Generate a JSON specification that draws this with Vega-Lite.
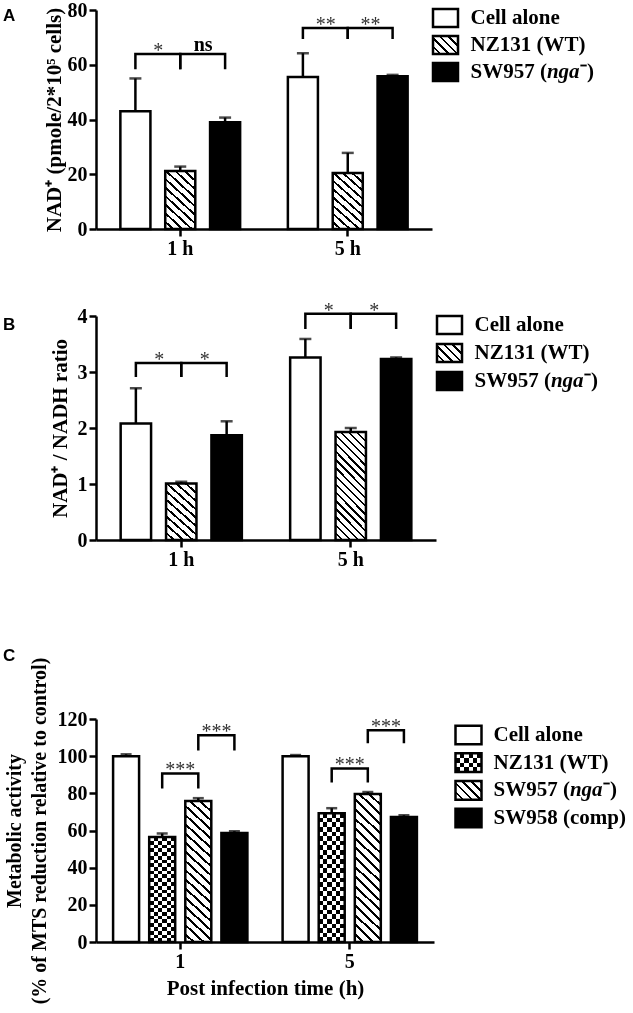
{
"$schema":"https://vega.github.io/schema/vega-lite/v6.json",
"padding":{"left":3,"top":0,"right":0,"bottom":0},
"background":"white",
"config":{"view":{"stroke":null},"font":"Liberation Serif",
"axis":{"domainColor":"black","domainWidth":2.5,"tickColor":"black","tickWidth":2.5,"tickSize":7,"labelFont":"Liberation Serif","labelFontWeight":"bold","labelFontSize":20,"labelColor":"black","labelPadding":2,"labelOverlap":false,"titleFont":"Liberation Serif","titleFontWeight":"bold","titleFontSize":21,"titleColor":"black","grid":false},
"title":{"font":"Liberation Sans","fontSize":17,"fontWeight":"bold","color":"black","anchor":"start","frame":"group"}},
"datasets":{
"barsA":[{"group":"1 h","series":"Cell alone","value":43,"upper":55},{"group":"1 h","series":"NZ131 (WT)","value":21.2,"upper":22.8},{"group":"1 h","series":"SW957 (nga⁻)","value":39,"upper":40.7},{"group":"5 h","series":"Cell alone","value":55.5,"upper":64.2},{"group":"5 h","series":"NZ131 (WT)","value":20.5,"upper":27.8},{"group":"5 h","series":"SW957 (nga⁻)","value":55.8,"upper":56.3}],
"brA":[{"id":"a","group":"1 h","series":"Cell alone","y":58.4,"o":1},{"id":"a","group":"1 h","series":"Cell alone","y":63.9,"o":2},{"id":"a","group":"1 h","series":"NZ131 (WT)","y":63.9,"o":3},{"id":"a","group":"1 h","series":"NZ131 (WT)","y":58.4,"o":4},
{"id":"b","group":"1 h","series":"NZ131 (WT)","y":58.4,"o":1},{"id":"b","group":"1 h","series":"NZ131 (WT)","y":63.9,"o":2},{"id":"b","group":"1 h","series":"SW957 (nga⁻)","y":63.9,"o":3},{"id":"b","group":"1 h","series":"SW957 (nga⁻)","y":58.4,"o":4},
{"id":"c","group":"5 h","series":"Cell alone","y":69.4,"o":1},{"id":"c","group":"5 h","series":"Cell alone","y":73.4,"o":2},{"id":"c","group":"5 h","series":"NZ131 (WT)","y":73.4,"o":3},{"id":"c","group":"5 h","series":"NZ131 (WT)","y":69.4,"o":4},
{"id":"d","group":"5 h","series":"NZ131 (WT)","y":69.4,"o":1},{"id":"d","group":"5 h","series":"NZ131 (WT)","y":73.4,"o":2},{"id":"d","group":"5 h","series":"SW957 (nga⁻)","y":73.4,"o":3},{"id":"d","group":"5 h","series":"SW957 (nga⁻)","y":69.4,"o":4}],
"stA":[{"group":"1 h","series":"NZ131 (WT)","y":63.9,"label":"*"},{"group":"1 h","series":"SW957 (nga⁻)","y":63.9,"label":"ns"},{"group":"5 h","series":"NZ131 (WT)","y":73.4,"label":"**"},{"group":"5 h","series":"SW957 (nga⁻)","y":73.4,"label":"**"}],
"barsB":[{"group":"1 h","series":"Cell alone","value":2.08,"upper":2.71},{"group":"1 h","series":"NZ131 (WT)","value":1.01,"upper":1.04},{"group":"1 h","series":"SW957 (nga⁻)","value":1.87,"upper":2.12},{"group":"5 h","series":"Cell alone","value":3.26,"upper":3.59},{"group":"5 h","series":"NZ131 (WT)","value":1.93,"upper":2.0},{"group":"5 h","series":"SW957 (nga⁻)","value":3.23,"upper":3.26}],
"brB":[{"id":"a","group":"1 h","series":"Cell alone","y":2.91,"o":1},{"id":"a","group":"1 h","series":"Cell alone","y":3.16,"o":2},{"id":"a","group":"1 h","series":"NZ131 (WT)","y":3.16,"o":3},{"id":"a","group":"1 h","series":"NZ131 (WT)","y":2.91,"o":4},
{"id":"b","group":"1 h","series":"NZ131 (WT)","y":2.91,"o":1},{"id":"b","group":"1 h","series":"NZ131 (WT)","y":3.16,"o":2},{"id":"b","group":"1 h","series":"SW957 (nga⁻)","y":3.16,"o":3},{"id":"b","group":"1 h","series":"SW957 (nga⁻)","y":2.91,"o":4},
{"id":"c","group":"5 h","series":"Cell alone","y":3.77,"o":1},{"id":"c","group":"5 h","series":"Cell alone","y":4.04,"o":2},{"id":"c","group":"5 h","series":"NZ131 (WT)","y":4.04,"o":3},{"id":"c","group":"5 h","series":"NZ131 (WT)","y":3.77,"o":4},
{"id":"d","group":"5 h","series":"NZ131 (WT)","y":3.77,"o":1},{"id":"d","group":"5 h","series":"NZ131 (WT)","y":4.04,"o":2},{"id":"d","group":"5 h","series":"SW957 (nga⁻)","y":4.04,"o":3},{"id":"d","group":"5 h","series":"SW957 (nga⁻)","y":3.77,"o":4}],
"stB":[{"group":"1 h","series":"NZ131 (WT)","y":3.16,"label":"*"},{"group":"1 h","series":"SW957 (nga⁻)","y":3.16,"label":"*"},{"group":"5 h","series":"NZ131 (WT)","y":4.04,"label":"*"},{"group":"5 h","series":"SW957 (nga⁻)","y":4.04,"label":"*"}],
"barsC":[{"group":"1","series":"Cell alone","value":100,"upper":101},{"group":"1","series":"NZ131 (WT)","value":56.5,"upper":58.4},{"group":"1","series":"SW957 (nga⁻)","value":75.9,"upper":77.4},{"group":"1","series":"SW958 (comp)","value":58.6,"upper":59.6},{"group":"5","series":"Cell alone","value":100,"upper":100.6},{"group":"5","series":"NZ131 (WT)","value":69.3,"upper":72},{"group":"5","series":"SW957 (nga⁻)","value":79.6,"upper":80.7},{"group":"5","series":"SW958 (comp)","value":67.3,"upper":68.2}],
"brC":[{"id":"a","group":"1","series":"NZ131 (WT)","y":82.6,"o":1},{"id":"a","group":"1","series":"NZ131 (WT)","y":90.7,"o":2},{"id":"a","group":"1","series":"SW957 (nga⁻)","y":90.7,"o":3},{"id":"a","group":"1","series":"SW957 (nga⁻)","y":82.6,"o":4},
{"id":"b","group":"1","series":"SW957 (nga⁻)","y":103.1,"o":1},{"id":"b","group":"1","series":"SW957 (nga⁻)","y":111.2,"o":2},{"id":"b","group":"1","series":"SW958 (comp)","y":111.2,"o":3},{"id":"b","group":"1","series":"SW958 (comp)","y":103.1,"o":4},
{"id":"c","group":"5","series":"NZ131 (WT)","y":85.8,"o":1},{"id":"c","group":"5","series":"NZ131 (WT)","y":93.4,"o":2},{"id":"c","group":"5","series":"SW957 (nga⁻)","y":93.4,"o":3},{"id":"c","group":"5","series":"SW957 (nga⁻)","y":85.8,"o":4},
{"id":"d","group":"5","series":"SW957 (nga⁻)","y":106.9,"o":1},{"id":"d","group":"5","series":"SW957 (nga⁻)","y":113.9,"o":2},{"id":"d","group":"5","series":"SW958 (comp)","y":113.9,"o":3},{"id":"d","group":"5","series":"SW958 (comp)","y":106.9,"o":4}],
"stC":[{"group":"1","series":"SW957 (nga⁻)","y":90.7,"label":"***"},{"group":"1","series":"SW958 (comp)","y":111.2,"label":"***"},{"group":"5","series":"SW957 (nga⁻)","y":93.4,"label":"***"},{"group":"5","series":"SW958 (comp)","y":113.9,"label":"***"}]
},
"columns":2,
"spacing":{"row":87,"column":0},
"bounds":"flush",
"resolve":{"scale":{"x":"independent","y":"independent","xOffset":"independent"},"axis":{"x":"independent","y":"independent"}},
"concat":[
{
"width":336,"height":219,
"title":{"text":"A","dx":-93,"dy":29},
"encoding":{
"x":{"field":"group","type":"nominal","scale":{"paddingInner":0.194,"paddingOuter":0.1},"axis":{"title":null,"labelAngle":0}},
"xOffset":{"field":"series","type":"nominal","scale":{"domain":["Cell alone","NZ131 (WT)","SW957 (nga⁻)"],"paddingInner":0.33,"paddingOuter":0.17}}},
"layer":[
{"data":{"name":"barsA"},"mark":{"type":"bar","strokeWidth":0},
"encoding":{"y":{"field":"value","type":"quantitative","stack":null,"title":"NAD⁺ (pmole/2*10⁵ cells)","scale":{"domain":[0,80],"nice":false},"axis":{"values":[0,20,40,60,80],"format":"d","titlePadding":3}},
"fill":{"condition":{"test":"datum.series === 'SW957 (nga⁻)'","value":"black"},"value":"white"}}},
{"data":{"name":"barsA"},"transform":[{"filter":"datum.series === 'NZ131 (WT)'"}],
"mark":{"type":"bar","strokeWidth":0,"fill":{"gradient":"linear","x1":0,"y1":1,"x2":0.573,"y2":-0.203,"stops":[{"offset":0,"color":"#fff"},{"offset":0.07,"color":"#fff"},{"offset":0.07,"color":"#000"},{"offset":0.1,"color":"#000"},{"offset":0.1,"color":"#fff"},{"offset":0.17,"color":"#fff"},{"offset":0.17,"color":"#000"},{"offset":0.2,"color":"#000"},{"offset":0.2,"color":"#fff"},{"offset":0.27,"color":"#fff"},{"offset":0.27,"color":"#000"},{"offset":0.3,"color":"#000"},{"offset":0.3,"color":"#fff"},{"offset":0.37,"color":"#fff"},{"offset":0.37,"color":"#000"},{"offset":0.4,"color":"#000"},{"offset":0.4,"color":"#fff"},{"offset":0.47,"color":"#fff"},{"offset":0.47,"color":"#000"},{"offset":0.5,"color":"#000"},{"offset":0.5,"color":"#fff"},{"offset":0.57,"color":"#fff"},{"offset":0.57,"color":"#000"},{"offset":0.6,"color":"#000"},{"offset":0.6,"color":"#fff"},{"offset":0.67,"color":"#fff"},{"offset":0.67,"color":"#000"},{"offset":0.7,"color":"#000"},{"offset":0.7,"color":"#fff"},{"offset":0.77,"color":"#fff"},{"offset":0.77,"color":"#000"},{"offset":0.8,"color":"#000"},{"offset":0.8,"color":"#fff"},{"offset":0.87,"color":"#fff"},{"offset":0.87,"color":"#000"},{"offset":0.9,"color":"#000"},{"offset":0.9,"color":"#fff"},{"offset":0.97,"color":"#fff"},{"offset":0.97,"color":"#000"},{"offset":1,"color":"#000"}]}},
"encoding":{"y":{"field":"value","type":"quantitative","stack":null,"title":"NAD⁺ (pmole/2*10⁵ cells)"}}},
{"data":{"name":"barsA"},"mark":{"type":"bar","fillOpacity":0,"stroke":"black","strokeWidth":2.5},
"encoding":{"y":{"field":"value","type":"quantitative","stack":null,"title":"NAD⁺ (pmole/2*10⁵ cells)"}}},
{"data":{"name":"barsA"},"mark":{"type":"rule","color":"black","strokeWidth":2.5},
"encoding":{"y":{"field":"value","type":"quantitative","title":"NAD⁺ (pmole/2*10⁵ cells)"},"y2":{"field":"upper"}}},
{"data":{"name":"barsA"},"mark":{"type":"tick","color":"black","size":12,"thickness":2.5},
"encoding":{"y":{"field":"upper","type":"quantitative","title":"NAD⁺ (pmole/2*10⁵ cells)"}}},
{"data":{"name":"brA"},"mark":{"type":"line","color":"black","strokeWidth":2.5,"strokeJoin":"miter","strokeCap":"butt"},
"encoding":{"y":{"field":"y","type":"quantitative","title":"NAD⁺ (pmole/2*10⁵ cells)"},"detail":{"field":"id"},"order":{"field":"o"}}},
{"data":{"name":"stA"},"transform":[{"filter":"datum.label !== 'ns'"}],"mark":{"type":"text","dx":-22,"dy":3,"baseline":"alphabetic","fontSize":20,"font":"Liberation Serif","color":"#333"},
"encoding":{"y":{"field":"y","type":"quantitative","title":"NAD⁺ (pmole/2*10⁵ cells)"},"text":{"field":"label"}}},
{"data":{"name":"stA"},"transform":[{"filter":"datum.label === 'ns'"}],"mark":{"type":"text","dx":-22,"dy":-3,"baseline":"alphabetic","fontSize":20,"fontWeight":"bold","font":"Liberation Serif","color":"black"},
"encoding":{"y":{"field":"y","type":"quantitative","title":"NAD⁺ (pmole/2*10⁵ cells)"},"text":{"field":"label"}}}
]},
{
"width":19,"height":219,
"data":{"values":[{"series":"Cell alone"},{"series":"NZ131 (WT)"},{"series":"SW957 (nga⁻)"}]},
"encoding":{"y":{"field":"series","type":"nominal","scale":{"type":"point","padding":0,"domain":["Cell alone","NZ131 (WT)","SW957 (nga⁻)"],"range":[8,62]},"axis":null}},
"layer":[
{"mark":{"type":"point","shape":"M-1,-0.72H1V0.72H-1Z","size":625,"filled":true,"opacity":1,"strokeWidth":0},
"encoding":{"fill":{"condition":{"test":"datum.series === 'SW957 (nga⁻)'","value":"black"},"value":"white"}}},
{"transform":[{"filter":"datum.series === 'NZ131 (WT)'"}],"mark":{"type":"point","shape":"M-1,-0.72H1V0.72H-1Z","size":625,"filled":true,"opacity":1,"strokeWidth":0,"fill":{"gradient":"linear","x1":0,"y1":1,"x2":1.133,"y2":0.184,"stops":[{"offset":0,"color":"#fff"},{"offset":0.14,"color":"#fff"},{"offset":0.14,"color":"#000"},{"offset":0.2,"color":"#000"},{"offset":0.2,"color":"#fff"},{"offset":0.34,"color":"#fff"},{"offset":0.34,"color":"#000"},{"offset":0.4,"color":"#000"},{"offset":0.4,"color":"#fff"},{"offset":0.54,"color":"#fff"},{"offset":0.54,"color":"#000"},{"offset":0.6,"color":"#000"},{"offset":0.6,"color":"#fff"},{"offset":0.74,"color":"#fff"},{"offset":0.74,"color":"#000"},{"offset":0.8,"color":"#000"},{"offset":0.8,"color":"#fff"},{"offset":0.94,"color":"#fff"},{"offset":0.94,"color":"#000"},{"offset":1,"color":"#000"}]}}},
{"mark":{"type":"point","shape":"M-1,-0.72H1V0.72H-1Z","size":625,"filled":false,"opacity":1,"stroke":"black","strokeWidth":2.5}},
{"transform":[{"filter":"datum.series !== 'SW957 (nga⁻)'"}],"mark":{"type":"text","align":"left","dx":25,"font":"Liberation Serif","fontWeight":"bold","fontSize":21,"color":"black"},"encoding":{"text":{"field":"series"}}},
{"transform":[{"filter":"datum.series === 'SW957 (nga⁻)'"}],"mark":{"type":"text","align":"left","dx":25,"font":"Liberation Serif","fontWeight":"bold","fontSize":21,"color":"black"},"encoding":{"text":{"value":"SW957 ("}}},
{"transform":[{"filter":"datum.series === 'SW957 (nga⁻)'"}],"mark":{"type":"text","align":"left","dx":101.4,"font":"Liberation Serif","fontWeight":"bold","fontStyle":"italic","fontSize":21,"color":"black"},"encoding":{"text":{"value":"nga"}}},
{"transform":[{"filter":"datum.series === 'SW957 (nga⁻)'"}],"mark":{"type":"text","align":"left","dx":134.5,"font":"Liberation Serif","fontWeight":"bold","fontSize":21,"color":"black"},"encoding":{"text":{"value":"⁻)"}}}
]},
{
"width":340,"height":224,
"title":{"text":"B","dx":-93,"dy":37},
"encoding":{
"x":{"field":"group","type":"nominal","scale":{"paddingInner":0.194,"paddingOuter":0.1},"axis":{"title":null,"labelAngle":0}},
"xOffset":{"field":"series","type":"nominal","scale":{"domain":["Cell alone","NZ131 (WT)","SW957 (nga⁻)"],"paddingInner":0.33,"paddingOuter":0.17}}},
"layer":[
{"data":{"name":"barsB"},"mark":{"type":"bar","strokeWidth":0},
"encoding":{"y":{"field":"value","type":"quantitative","stack":null,"title":"NAD⁺ / NADH ratio","scale":{"domain":[0,4],"nice":false},"axis":{"values":[0,1,2,3,4],"format":"d","titlePadding":7}},
"fill":{"condition":{"test":"datum.series === 'SW957 (nga⁻)'","value":"black"},"value":"white"}}},
{"data":{"name":"barsB"},"transform":[{"filter":"datum.series === 'NZ131 (WT)' && datum.group === '1 h'"}],
"mark":{"type":"bar","strokeWidth":0,"fill":{"gradient":"linear","x1":0,"y1":1,"x2":0.573,"y2":-0.203,"stops":[{"offset":0,"color":"#fff"},{"offset":0.07,"color":"#fff"},{"offset":0.07,"color":"#000"},{"offset":0.1,"color":"#000"},{"offset":0.1,"color":"#fff"},{"offset":0.17,"color":"#fff"},{"offset":0.17,"color":"#000"},{"offset":0.2,"color":"#000"},{"offset":0.2,"color":"#fff"},{"offset":0.27,"color":"#fff"},{"offset":0.27,"color":"#000"},{"offset":0.3,"color":"#000"},{"offset":0.3,"color":"#fff"},{"offset":0.37,"color":"#fff"},{"offset":0.37,"color":"#000"},{"offset":0.4,"color":"#000"},{"offset":0.4,"color":"#fff"},{"offset":0.47,"color":"#fff"},{"offset":0.47,"color":"#000"},{"offset":0.5,"color":"#000"},{"offset":0.5,"color":"#fff"},{"offset":0.57,"color":"#fff"},{"offset":0.57,"color":"#000"},{"offset":0.6,"color":"#000"},{"offset":0.6,"color":"#fff"},{"offset":0.67,"color":"#fff"},{"offset":0.67,"color":"#000"},{"offset":0.7,"color":"#000"},{"offset":0.7,"color":"#fff"},{"offset":0.77,"color":"#fff"},{"offset":0.77,"color":"#000"},{"offset":0.8,"color":"#000"},{"offset":0.8,"color":"#fff"},{"offset":0.87,"color":"#fff"},{"offset":0.87,"color":"#000"},{"offset":0.9,"color":"#000"},{"offset":0.9,"color":"#fff"},{"offset":0.97,"color":"#fff"},{"offset":0.97,"color":"#000"},{"offset":1,"color":"#000"}]}},
"encoding":{"y":{"field":"value","type":"quantitative","stack":null,"title":"NAD⁺ / NADH ratio"}}},
{"data":{"name":"barsB"},"transform":[{"filter":"datum.series === 'NZ131 (WT)' && datum.group === '5 h'"}],
"mark":{"type":"bar","strokeWidth":0,"fill":{"gradient":"linear","x1":0,"y1":1,"x2":0.34,"y2":-0.189,"stops":[{"offset":0,"color":"#fff"},{"offset":0.0412,"color":"#fff"},{"offset":0.0412,"color":"#000"},{"offset":0.0588,"color":"#000"},{"offset":0.0588,"color":"#fff"},{"offset":0.1,"color":"#fff"},{"offset":0.1,"color":"#000"},{"offset":0.1176,"color":"#000"},{"offset":0.1176,"color":"#fff"},{"offset":0.1588,"color":"#fff"},{"offset":0.1588,"color":"#000"},{"offset":0.1765,"color":"#000"},{"offset":0.1765,"color":"#fff"},{"offset":0.2176,"color":"#fff"},{"offset":0.2176,"color":"#000"},{"offset":0.2353,"color":"#000"},{"offset":0.2353,"color":"#fff"},{"offset":0.2765,"color":"#fff"},{"offset":0.2765,"color":"#000"},{"offset":0.2941,"color":"#000"},{"offset":0.2941,"color":"#fff"},{"offset":0.3353,"color":"#fff"},{"offset":0.3353,"color":"#000"},{"offset":0.3529,"color":"#000"},{"offset":0.3529,"color":"#fff"},{"offset":0.3941,"color":"#fff"},{"offset":0.3941,"color":"#000"},{"offset":0.4118,"color":"#000"},{"offset":0.4118,"color":"#fff"},{"offset":0.4529,"color":"#fff"},{"offset":0.4529,"color":"#000"},{"offset":0.4706,"color":"#000"},{"offset":0.4706,"color":"#fff"},{"offset":0.5118,"color":"#fff"},{"offset":0.5118,"color":"#000"},{"offset":0.5294,"color":"#000"},{"offset":0.5294,"color":"#fff"},{"offset":0.5706,"color":"#fff"},{"offset":0.5706,"color":"#000"},{"offset":0.5882,"color":"#000"},{"offset":0.5882,"color":"#fff"},{"offset":0.6294,"color":"#fff"},{"offset":0.6294,"color":"#000"},{"offset":0.6471,"color":"#000"},{"offset":0.6471,"color":"#fff"},{"offset":0.6882,"color":"#fff"},{"offset":0.6882,"color":"#000"},{"offset":0.7059,"color":"#000"},{"offset":0.7059,"color":"#fff"},{"offset":0.7471,"color":"#fff"},{"offset":0.7471,"color":"#000"},{"offset":0.7647,"color":"#000"},{"offset":0.7647,"color":"#fff"},{"offset":0.8059,"color":"#fff"},{"offset":0.8059,"color":"#000"},{"offset":0.8235,"color":"#000"},{"offset":0.8235,"color":"#fff"},{"offset":0.8647,"color":"#fff"},{"offset":0.8647,"color":"#000"},{"offset":0.8824,"color":"#000"},{"offset":0.8824,"color":"#fff"},{"offset":0.9235,"color":"#fff"},{"offset":0.9235,"color":"#000"},{"offset":0.9412,"color":"#000"},{"offset":0.9412,"color":"#fff"},{"offset":0.9824,"color":"#fff"},{"offset":0.9824,"color":"#000"},{"offset":1,"color":"#000"}]}},
"encoding":{"y":{"field":"value","type":"quantitative","stack":null,"title":"NAD⁺ / NADH ratio"}}},
{"data":{"name":"barsB"},"mark":{"type":"bar","fillOpacity":0,"stroke":"black","strokeWidth":2.5},
"encoding":{"y":{"field":"value","type":"quantitative","stack":null,"title":"NAD⁺ / NADH ratio"}}},
{"data":{"name":"barsB"},"mark":{"type":"rule","color":"black","strokeWidth":2.5},
"encoding":{"y":{"field":"value","type":"quantitative","title":"NAD⁺ / NADH ratio"},"y2":{"field":"upper"}}},
{"data":{"name":"barsB"},"mark":{"type":"tick","color":"black","size":12,"thickness":2.5},
"encoding":{"y":{"field":"upper","type":"quantitative","title":"NAD⁺ / NADH ratio"}}},
{"data":{"name":"brB"},"mark":{"type":"line","color":"black","strokeWidth":2.5,"strokeJoin":"miter","strokeCap":"butt"},
"encoding":{"y":{"field":"y","type":"quantitative","title":"NAD⁺ / NADH ratio"},"detail":{"field":"id"},"order":{"field":"o"}}},
{"data":{"name":"stB"},"mark":{"type":"text","dx":-22,"dy":3,"baseline":"alphabetic","fontSize":20,"font":"Liberation Serif","color":"#333"},
"encoding":{"y":{"field":"y","type":"quantitative","title":"NAD⁺ / NADH ratio"},"text":{"field":"label"}}}
]},
{
"width":27,"height":316,
"data":{"values":[{"series":"Cell alone"},{"series":"NZ131 (WT)"},{"series":"SW957 (nga⁻)"}]},
"encoding":{"y":{"field":"series","type":"nominal","scale":{"type":"point","padding":0,"domain":["Cell alone","NZ131 (WT)","SW957 (nga⁻)"],"range":[9,65]},"axis":null}},
"layer":[
{"mark":{"type":"point","shape":"M-1,-0.72H1V0.72H-1Z","size":625,"filled":true,"opacity":1,"strokeWidth":0},
"encoding":{"fill":{"condition":{"test":"datum.series === 'SW957 (nga⁻)'","value":"black"},"value":"white"}}},
{"transform":[{"filter":"datum.series === 'NZ131 (WT)'"}],"mark":{"type":"point","shape":"M-1,-0.72H1V0.72H-1Z","size":625,"filled":true,"opacity":1,"strokeWidth":0,"fill":{"gradient":"linear","x1":0,"y1":1,"x2":1.133,"y2":0.184,"stops":[{"offset":0,"color":"#fff"},{"offset":0.14,"color":"#fff"},{"offset":0.14,"color":"#000"},{"offset":0.2,"color":"#000"},{"offset":0.2,"color":"#fff"},{"offset":0.34,"color":"#fff"},{"offset":0.34,"color":"#000"},{"offset":0.4,"color":"#000"},{"offset":0.4,"color":"#fff"},{"offset":0.54,"color":"#fff"},{"offset":0.54,"color":"#000"},{"offset":0.6,"color":"#000"},{"offset":0.6,"color":"#fff"},{"offset":0.74,"color":"#fff"},{"offset":0.74,"color":"#000"},{"offset":0.8,"color":"#000"},{"offset":0.8,"color":"#fff"},{"offset":0.94,"color":"#fff"},{"offset":0.94,"color":"#000"},{"offset":1,"color":"#000"}]}}},
{"mark":{"type":"point","shape":"M-1,-0.72H1V0.72H-1Z","size":625,"filled":false,"opacity":1,"stroke":"black","strokeWidth":2.5}},
{"transform":[{"filter":"datum.series !== 'SW957 (nga⁻)'"}],"mark":{"type":"text","align":"left","dx":25,"font":"Liberation Serif","fontWeight":"bold","fontSize":21,"color":"black"},"encoding":{"text":{"field":"series"}}},
{"transform":[{"filter":"datum.series === 'SW957 (nga⁻)'"}],"mark":{"type":"text","align":"left","dx":25,"font":"Liberation Serif","fontWeight":"bold","fontSize":21,"color":"black"},"encoding":{"text":{"value":"SW957 ("}}},
{"transform":[{"filter":"datum.series === 'SW957 (nga⁻)'"}],"mark":{"type":"text","align":"left","dx":101.4,"font":"Liberation Serif","fontWeight":"bold","fontStyle":"italic","fontSize":21,"color":"black"},"encoding":{"text":{"value":"nga"}}},
{"transform":[{"filter":"datum.series === 'SW957 (nga⁻)'"}],"mark":{"type":"text","align":"left","dx":134.5,"font":"Liberation Serif","fontWeight":"bold","fontSize":21,"color":"black"},"encoding":{"text":{"value":"⁻)"}}}
]},
{
"width":338,"height":223,
"title":{"text":"C","dx":-93,"dy":12},
"encoding":{
"x":{"field":"group","type":"nominal","scale":{"paddingInner":0.148,"paddingOuter":0.071},"axis":{"title":"Post infection time (h)","labelAngle":0,"titlePadding":6}},
"xOffset":{"field":"series","type":"nominal","scale":{"domain":["Cell alone","NZ131 (WT)","SW957 (nga⁻)","SW958 (comp)"],"paddingInner":0.28,"paddingOuter":0.14}}},
"layer":[
{"data":{"name":"barsC"},"mark":{"type":"bar","strokeWidth":0},
"encoding":{"y":{"field":"value","type":"quantitative","stack":null,"title":["Metabolic activity","(% of MTS reduction relative to control)"],"scale":{"domain":[0,120],"nice":false},"axis":{"titleLineHeight":25,"titleFontSize":20,"values":[0,20,40,60,80,100,120],"tickCount":7,"labelOverlap":false,"labelBound":false,"format":"d","titlePadding":8}},
"fill":{"condition":{"test":"datum.series === 'SW958 (comp)'","value":"black"},"value":"white"}}},
{"data":{"name":"barsC"},"transform":[{"filter":"datum.series === 'NZ131 (WT)'"}],
"mark":{"type":"bar","strokeWidth":0,"fill":{"gradient":"linear","x1":0,"y1":0,"x2":1,"y2":0,"stops":[{"offset":0,"color":"#000"},{"offset":0.1667,"color":"#000"},{"offset":0.1667,"color":"#fff"},{"offset":0.3333,"color":"#fff"},{"offset":0.3333,"color":"#000"},{"offset":0.5,"color":"#000"},{"offset":0.5,"color":"#fff"},{"offset":0.6667,"color":"#fff"},{"offset":0.6667,"color":"#000"},{"offset":0.8333,"color":"#000"},{"offset":0.8333,"color":"#fff"},{"offset":1,"color":"#fff"}]}},
"encoding":{"y":{"field":"value","type":"quantitative","stack":null,"title":["Metabolic activity","(% of MTS reduction relative to control)"]}}},
{"data":{"name":"barsC"},"transform":[{"filter":"datum.series === 'NZ131 (WT)'"}],
"mark":{"type":"bar","strokeWidth":0,"blend":"difference","fill":{"gradient":"linear","x1":0,"y1":0,"x2":0,"y2":1,"stops":[{"offset":0,"color":"#fff"},{"offset":0.0357,"color":"#fff"},{"offset":0.0357,"color":"#000"},{"offset":0.0714,"color":"#000"},{"offset":0.0714,"color":"#fff"},{"offset":0.1071,"color":"#fff"},{"offset":0.1071,"color":"#000"},{"offset":0.1429,"color":"#000"},{"offset":0.1429,"color":"#fff"},{"offset":0.1786,"color":"#fff"},{"offset":0.1786,"color":"#000"},{"offset":0.2143,"color":"#000"},{"offset":0.2143,"color":"#fff"},{"offset":0.25,"color":"#fff"},{"offset":0.25,"color":"#000"},{"offset":0.2857,"color":"#000"},{"offset":0.2857,"color":"#fff"},{"offset":0.3214,"color":"#fff"},{"offset":0.3214,"color":"#000"},{"offset":0.3571,"color":"#000"},{"offset":0.3571,"color":"#fff"},{"offset":0.3929,"color":"#fff"},{"offset":0.3929,"color":"#000"},{"offset":0.4286,"color":"#000"},{"offset":0.4286,"color":"#fff"},{"offset":0.4643,"color":"#fff"},{"offset":0.4643,"color":"#000"},{"offset":0.5,"color":"#000"},{"offset":0.5,"color":"#fff"},{"offset":0.5357,"color":"#fff"},{"offset":0.5357,"color":"#000"},{"offset":0.5714,"color":"#000"},{"offset":0.5714,"color":"#fff"},{"offset":0.6071,"color":"#fff"},{"offset":0.6071,"color":"#000"},{"offset":0.6429,"color":"#000"},{"offset":0.6429,"color":"#fff"},{"offset":0.6786,"color":"#fff"},{"offset":0.6786,"color":"#000"},{"offset":0.7143,"color":"#000"},{"offset":0.7143,"color":"#fff"},{"offset":0.75,"color":"#fff"},{"offset":0.75,"color":"#000"},{"offset":0.7857,"color":"#000"},{"offset":0.7857,"color":"#fff"},{"offset":0.8214,"color":"#fff"},{"offset":0.8214,"color":"#000"},{"offset":0.8571,"color":"#000"},{"offset":0.8571,"color":"#fff"},{"offset":0.8929,"color":"#fff"},{"offset":0.8929,"color":"#000"},{"offset":0.9286,"color":"#000"},{"offset":0.9286,"color":"#fff"},{"offset":0.9643,"color":"#fff"},{"offset":0.9643,"color":"#000"},{"offset":1,"color":"#000"}]}},
"encoding":{"y":{"field":"value","type":"quantitative","stack":null,"title":["Metabolic activity","(% of MTS reduction relative to control)"]}}},
{"data":{"name":"barsC"},"transform":[{"filter":"datum.series === 'SW957 (nga⁻)'"}],
"mark":{"type":"bar","strokeWidth":0,"fill":{"gradient":"linear","x1":0,"y1":1,"x2":0.193,"y2":-0.137,"stops":[{"offset":0,"color":"#fff"},{"offset":0.0389,"color":"#fff"},{"offset":0.0389,"color":"#000"},{"offset":0.0556,"color":"#000"},{"offset":0.0556,"color":"#fff"},{"offset":0.0944,"color":"#fff"},{"offset":0.0944,"color":"#000"},{"offset":0.1111,"color":"#000"},{"offset":0.1111,"color":"#fff"},{"offset":0.15,"color":"#fff"},{"offset":0.15,"color":"#000"},{"offset":0.1667,"color":"#000"},{"offset":0.1667,"color":"#fff"},{"offset":0.2056,"color":"#fff"},{"offset":0.2056,"color":"#000"},{"offset":0.2222,"color":"#000"},{"offset":0.2222,"color":"#fff"},{"offset":0.2611,"color":"#fff"},{"offset":0.2611,"color":"#000"},{"offset":0.2778,"color":"#000"},{"offset":0.2778,"color":"#fff"},{"offset":0.3167,"color":"#fff"},{"offset":0.3167,"color":"#000"},{"offset":0.3333,"color":"#000"},{"offset":0.3333,"color":"#fff"},{"offset":0.3722,"color":"#fff"},{"offset":0.3722,"color":"#000"},{"offset":0.3889,"color":"#000"},{"offset":0.3889,"color":"#fff"},{"offset":0.4278,"color":"#fff"},{"offset":0.4278,"color":"#000"},{"offset":0.4444,"color":"#000"},{"offset":0.4444,"color":"#fff"},{"offset":0.4833,"color":"#fff"},{"offset":0.4833,"color":"#000"},{"offset":0.5,"color":"#000"},{"offset":0.5,"color":"#fff"},{"offset":0.5389,"color":"#fff"},{"offset":0.5389,"color":"#000"},{"offset":0.5556,"color":"#000"},{"offset":0.5556,"color":"#fff"},{"offset":0.5944,"color":"#fff"},{"offset":0.5944,"color":"#000"},{"offset":0.6111,"color":"#000"},{"offset":0.6111,"color":"#fff"},{"offset":0.65,"color":"#fff"},{"offset":0.65,"color":"#000"},{"offset":0.6667,"color":"#000"},{"offset":0.6667,"color":"#fff"},{"offset":0.7056,"color":"#fff"},{"offset":0.7056,"color":"#000"},{"offset":0.7222,"color":"#000"},{"offset":0.7222,"color":"#fff"},{"offset":0.7611,"color":"#fff"},{"offset":0.7611,"color":"#000"},{"offset":0.7778,"color":"#000"},{"offset":0.7778,"color":"#fff"},{"offset":0.8167,"color":"#fff"},{"offset":0.8167,"color":"#000"},{"offset":0.8333,"color":"#000"},{"offset":0.8333,"color":"#fff"},{"offset":0.8722,"color":"#fff"},{"offset":0.8722,"color":"#000"},{"offset":0.8889,"color":"#000"},{"offset":0.8889,"color":"#fff"},{"offset":0.9278,"color":"#fff"},{"offset":0.9278,"color":"#000"},{"offset":0.9444,"color":"#000"},{"offset":0.9444,"color":"#fff"},{"offset":0.9833,"color":"#fff"},{"offset":0.9833,"color":"#000"},{"offset":1,"color":"#000"}]}},
"encoding":{"y":{"field":"value","type":"quantitative","stack":null,"title":["Metabolic activity","(% of MTS reduction relative to control)"]}}},
{"data":{"name":"barsC"},"mark":{"type":"bar","fillOpacity":0,"stroke":"black","strokeWidth":2.5},
"encoding":{"y":{"field":"value","type":"quantitative","stack":null,"title":["Metabolic activity","(% of MTS reduction relative to control)"]}}},
{"data":{"name":"barsC"},"mark":{"type":"rule","color":"black","strokeWidth":2.5},
"encoding":{"y":{"field":"value","type":"quantitative","title":["Metabolic activity","(% of MTS reduction relative to control)"]},"y2":{"field":"upper"}}},
{"data":{"name":"barsC"},"mark":{"type":"tick","color":"black","size":11,"thickness":2.5},
"encoding":{"y":{"field":"upper","type":"quantitative","title":["Metabolic activity","(% of MTS reduction relative to control)"]}}},
{"data":{"name":"brC"},"mark":{"type":"line","color":"black","strokeWidth":2.5,"strokeJoin":"miter","strokeCap":"butt"},
"encoding":{"y":{"field":"y","type":"quantitative","title":["Metabolic activity","(% of MTS reduction relative to control)"]},"detail":{"field":"id"},"order":{"field":"o"}}},
{"data":{"name":"stC"},"mark":{"type":"text","dx":-18,"dy":3,"baseline":"alphabetic","fontSize":20,"font":"Liberation Serif","color":"#333"},
"encoding":{"y":{"field":"y","type":"quantitative","title":["Metabolic activity","(% of MTS reduction relative to control)"]},"text":{"field":"label"}}}
]},
{
"width":65,"height":223,
"data":{"values":[{"series":"Cell alone"},{"series":"NZ131 (WT)"},{"series":"SW957 (nga⁻)"},{"series":"SW958 (comp)"}]},
"encoding":{"y":{"field":"series","type":"nominal","scale":{"type":"point","padding":0,"domain":["Cell alone","NZ131 (WT)","SW957 (nga⁻)","SW958 (comp)"],"range":[16,99]},"axis":null}},
"layer":[
{"mark":{"type":"point","shape":"M-1,-0.72H1V0.72H-1Z","size":676,"filled":true,"opacity":1,"strokeWidth":0},
"encoding":{"fill":{"condition":{"test":"datum.series === 'SW958 (comp)'","value":"black"},"value":"white"}}},
{"transform":[{"filter":"datum.series === 'NZ131 (WT)'"}],"mark":{"type":"point","shape":"M-1,-0.72H1V0.72H-1Z","size":676,"filled":true,"opacity":1,"strokeWidth":0,"fill":{"gradient":"linear","x1":0,"y1":0,"x2":1,"y2":0,"stops":[{"offset":0,"color":"#000"},{"offset":0.1667,"color":"#000"},{"offset":0.1667,"color":"#fff"},{"offset":0.3333,"color":"#fff"},{"offset":0.3333,"color":"#000"},{"offset":0.5,"color":"#000"},{"offset":0.5,"color":"#fff"},{"offset":0.6667,"color":"#fff"},{"offset":0.6667,"color":"#000"},{"offset":0.8333,"color":"#000"},{"offset":0.8333,"color":"#fff"},{"offset":1,"color":"#fff"}]}}},
{"transform":[{"filter":"datum.series === 'NZ131 (WT)'"}],"mark":{"type":"point","shape":"M-1,-0.72H1V0.72H-1Z","size":676,"filled":true,"opacity":1,"strokeWidth":0,"blend":"difference","fill":{"gradient":"linear","x1":0,"y1":0,"x2":0,"y2":1,"stops":[{"offset":0,"color":"#fff"},{"offset":0.25,"color":"#fff"},{"offset":0.25,"color":"#000"},{"offset":0.5,"color":"#000"},{"offset":0.5,"color":"#fff"},{"offset":0.75,"color":"#fff"},{"offset":0.75,"color":"#000"},{"offset":1,"color":"#000"}]}}},
{"transform":[{"filter":"datum.series === 'SW957 (nga⁻)'"}],"mark":{"type":"point","shape":"M-1,-0.72H1V0.72H-1Z","size":676,"filled":true,"opacity":1,"strokeWidth":0,"fill":{"gradient":"linear","x1":0,"y1":1,"x2":1.133,"y2":0.184,"stops":[{"offset":0,"color":"#fff"},{"offset":0.14,"color":"#fff"},{"offset":0.14,"color":"#000"},{"offset":0.2,"color":"#000"},{"offset":0.2,"color":"#fff"},{"offset":0.34,"color":"#fff"},{"offset":0.34,"color":"#000"},{"offset":0.4,"color":"#000"},{"offset":0.4,"color":"#fff"},{"offset":0.54,"color":"#fff"},{"offset":0.54,"color":"#000"},{"offset":0.6,"color":"#000"},{"offset":0.6,"color":"#fff"},{"offset":0.74,"color":"#fff"},{"offset":0.74,"color":"#000"},{"offset":0.8,"color":"#000"},{"offset":0.8,"color":"#fff"},{"offset":0.94,"color":"#fff"},{"offset":0.94,"color":"#000"},{"offset":1,"color":"#000"}]}}},
{"mark":{"type":"point","shape":"M-1,-0.72H1V0.72H-1Z","size":676,"filled":false,"opacity":1,"stroke":"black","strokeWidth":2.5}},
{"transform":[{"filter":"datum.series !== 'SW957 (nga⁻)'"}],"mark":{"type":"text","align":"left","dx":25,"font":"Liberation Serif","fontWeight":"bold","fontSize":21,"color":"black"},"encoding":{"text":{"field":"series"}}},
{"transform":[{"filter":"datum.series === 'SW957 (nga⁻)'"}],"mark":{"type":"text","align":"left","dx":25,"font":"Liberation Serif","fontWeight":"bold","fontSize":21,"color":"black"},"encoding":{"text":{"value":"SW957 ("}}},
{"transform":[{"filter":"datum.series === 'SW957 (nga⁻)'"}],"mark":{"type":"text","align":"left","dx":101.4,"font":"Liberation Serif","fontWeight":"bold","fontStyle":"italic","fontSize":21,"color":"black"},"encoding":{"text":{"value":"nga"}}},
{"transform":[{"filter":"datum.series === 'SW957 (nga⁻)'"}],"mark":{"type":"text","align":"left","dx":134.5,"font":"Liberation Serif","fontWeight":"bold","fontSize":21,"color":"black"},"encoding":{"text":{"value":"⁻)"}}}
]}
]
}
